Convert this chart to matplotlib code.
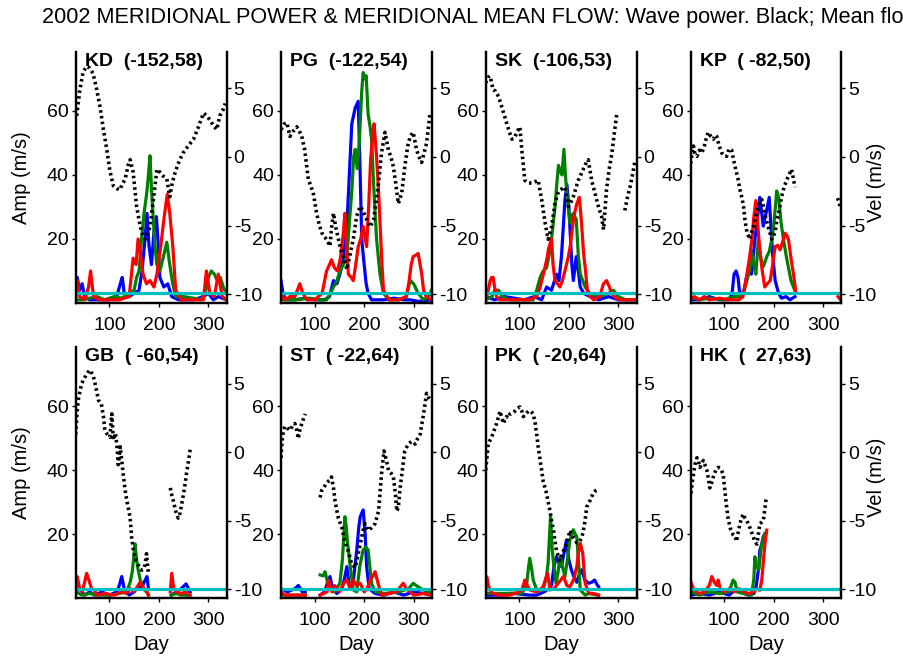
import numpy as np
import matplotlib.pyplot as plt

plt.rcParams['font.family'] = ['Liberation Sans', 'DejaVu Sans']
plt.rcParams['axes.unicode_minus'] = False

# (day, value) pairs; None marks a gap in the record
kd_vel = [(34, 3.0), (40, 4.8), (47, 6.2), (54, 6.6), (60, 6.5), (67, 6.1), (74, 5.0), (81, 3.7), (88, 2.0),
          (95, 0.5), (101, -1.0), (108, -2.1), (115, -2.3), (121, -2.4), (126, -2.0), (132, -1.6), (138, -0.6),
          (142, -0.2), (148, -1.1), (155, -3.6), (160, -4.6), (165, -5.5), (172, -6.0), (177, -5.6), (182, -5.1),
          (189, -3.1), (196, -0.9), (202, -1.1), (209, -1.4), (216, -1.6), (222, -2.9), (227, -1.9), (233, -1.1),
          (241, -0.3), (249, 0.3), (259, 0.8), (270, 1.3), (280, 2.2), (290, 3.2), (297, 3.0), (303, 2.7),
          (310, 2.3), (317, 2.0), (323, 3.0), (329, 3.4), (334, 3.9)]
kd_blue = [(32, 3), (35, 8), (40, 4), (45, 6), (50, 2), (60, 1), (80, 1), (100, 1), (115, 2), (122, 6), (126, 8),
           (130, 3), (140, 2), (150, 3), (160, 4), (166, 10), (172, 20), (176, 28), (180, 18), (185, 12), (190, 22),
           (195, 27), (198, 20), (202, 8), (210, 5), (218, 6), (226, 2), (240, 1), (270, 1), (290, 2), (300, 3),
           (310, 1), (320, 2), (336, 1)]
kd_green = [(32, 1), (45, 1), (60, 1.5), (75, 2), (90, 1), (110, 2), (125, 1.5), (140, 3), (150, 4), (155, 8),
            (160, 10), (165, 20), (170, 28), (176, 35), (180, 42), (182, 46), (185, 36), (188, 28), (192, 18),
            (196, 12), (202, 10), (210, 15), (216, 19), (222, 12), (228, 6), (234, 2), (250, 2), (270, 1.5),
            (285, 1), (295, 4), (300, 8), (306, 10), (312, 9), (318, 7), (324, 8), (330, 5), (336, 3)]
kd_red = [(32, 1), (35, 7), (40, 2), (50, 1), (58, 5), (62, 10), (68, 2), (80, 1), (100, 1), (120, 1), (140, 2),
          (148, 14), (154, 12), (158, 20), (163, 15), (168, 9), (175, 6), (182, 7), (190, 5), (196, 9), (204, 18),
          (210, 26), (217, 34), (222, 28), (228, 18), (234, 4), (245, 1), (270, 1), (290, 1), (296, 10), (303, 3),
          (312, 2), (320, 9), (328, 2), (336, 1)]

pg_vel = [(32, 2.0), (38, 2.4), (44, 2.5), (50, 1.5), (57, 1.9), (64, 2.2), (70, 1.8), (74, 1.5), (80, 0.5),
          (87, -1.6), (92, -2.1), (97, -2.6), (104, -4.1), (109, -4.9), (114, -5.5), (119, -5.8), (124, -6.0),
          (131, -6.5), (134, -5.2), (138, -4.1), (143, -5.2), (148, -6.0), (153, -6.8), (158, -7.2), (165, -8.2),
          (171, -7.2), (178, -6.0), (185, -4.3), (192, -3.6), (197, -3.9), (202, -4.3), (207, -4.7), (212, -5.1),
          (219, -4.6), (224, -3.3), (229, -1.9), (235, 0.3), (242, 1.8), (249, 0.5), (254, 0.0), (259, -0.7),
          (264, -2.0), (269, -3.4), (276, -2.6), (282, -0.7), (288, 0.8), (293, 1.5), (299, 1.8), (306, 0.5),
          (311, 0.0), (316, -0.4), (321, 0.3), (326, 1.0), (333, 3.2)]
pg_blue = [(32, 7), (36, 3), (42, 1), (60, 1), (80, 1.5), (100, 1), (120, 1), (130, 2), (138, 7), (145, 6),
           (151, 9), (158, 14), (165, 24), (170, 40), (175, 56), (182, 61), (188, 63), (192, 40), (195, 20),
           (200, 12), (204, 6), (208, 3), (215, 1), (240, 1), (260, 1.5), (280, 1), (293, 1), (310, 0.5), (336, 1)]
pg_green = [(32, 1), (60, 1), (90, 1.5), (110, 1), (124, 1), (132, 3), (138, 5), (145, 7), (151, 10), (158, 12),
            (165, 14.5), (170, 25), (175, 35), (179, 46), (182, 48), (186, 42), (190, 50), (195, 66), (198, 72),
            (202, 70), (204, 71), (208, 59), (212, 55), (215, 51), (220, 34), (225, 20), (232, 9), (239, 3),
            (250, 1), (270, 1), (285, 2), (293, 7), (300, 6), (309, 3), (320, 1), (330, 2), (336, 4)]
pg_red = [(32, 3), (40, 1), (50, 2), (60, 2), (70, 6), (76, 3), (85, 1), (100, 1), (115, 3), (124, 10), (130, 12),
          (134, 13.5), (140, 11), (146, 10), (152, 14), (158, 22), (161, 28), (164, 20), (168, 9), (174, 8),
          (178, 7), (183, 12), (188, 17.6), (193, 20), (198, 24), (202, 20), (205, 17.6), (209, 30), (213, 44.7),
          (217, 52), (220, 56), (225, 45.7), (229, 35), (232, 25), (236, 12), (239, 4), (250, 1), (270, 1),
          (285, 2), (290, 6), (295, 12), (299, 14.5), (305, 15), (309, 15.5), (313, 12), (316, 9.3), (320, 4),
          (325, 2), (336, 1)]

sk_vel = [(32, 5.4), (36, 5.8), (41, 5.9), (47, 4.9), (52, 4.8), (58, 4.4), (64, 3.7), (70, 3.0), (74, 2.5),
          (80, 1.8), (85, 1.3), (90, 1.4), (95, 1.8), (101, 2.2), (105, 0.5), (108, -0.6), (111, -1.7),
          (118, -1.9), (125, -1.9), (132, -1.8), (138, -1.7), (145, -3.1), (152, -4.8), (158, -6.0), (162, -5.5),
          (165, -5.1), (172, -3.4), (177, -2.7), (182, -2.4), (192, -2.2), (199, -3.6), (204, -3.3), (209, -2.9),
          (214, -2.3), (219, -1.7), (224, -1.3), (229, -0.9), (234, -0.5), (239, -0.2), (246, -1.7), (251, -2.4),
          (256, -3.1), (261, -3.8), (266, -4.3), (270, -5.3), (276, -2.4), (281, -1.0), (287, 0.3), (292, 1.8),
          (297, 3.2), None, (313, -3.9), (318, -3.0), (324, -2.1), (329, -1.2), (334, -0.2)]
sk_blue = [(32, 2), (50, 1), (70, 2), (90, 1.5), (110, 1), (130, 2), (145, 1), (155, 5), (165, 4), (175, 9),
           (180, 7), (185, 14.5), (192, 32), (196, 37), (200, 30), (202, 24), (206, 12), (209, 7), (215, 14.5),
           (219, 10), (223, 5), (230, 3), (243, 2), (260, 1), (280, 2), (300, 1), (320, 1), (336, 1)]
sk_green = [(32, 1), (45, 2), (50, 4), (58, 4), (65, 2), (80, 1), (100, 1), (128, 1), (135, 4), (142, 8),
            (148, 10), (155, 11), (160, 15), (165, 20), (172, 30), (176, 38), (179, 43), (183, 41), (186, 40),
            (190, 48), (193, 40), (196, 34), (202, 25), (205, 27), (209, 28), (215, 26), (219, 15), (223, 9),
            (228, 7), (233, 5), (242, 3), (260, 2), (280, 3), (290, 4), (300, 2), (315, 1), (330, 1), (336, 1)]
sk_red = [(32, 1), (36, 3), (41, 7), (44, 8), (47, 8), (50, 5), (54, 2), (60, 1), (80, 1), (100, 1), (120, 1),
          (135, 2), (142, 5), (150, 10), (156, 14), (159, 17), (165, 20), (168, 12), (172, 7), (182, 5), (187, 7),
          (192, 10), (199, 14.5), (203, 18), (206, 22), (210, 27), (216, 31), (221, 33), (224, 28), (226, 24),
          (230, 15), (233, 11), (238, 3), (250, 1), (262, 2), (270, 6), (276, 7), (282, 5), (286, 3), (295, 1.5),
          (303, 1), (322, 1), (336, 1)]

kp_vel = [(31, -0.9), (34, 0.0), (38, 0.8), (41, 0.2), (45, 0.05), (50, 0.5), (55, 0.3), (60, 0.8), (64, 1.4),
          (68, 1.8), (73, 1.5), (78, 1.3), (82, 1.6), (85, 1.5), (90, 0.8), (95, 0.3), (100, 0.1), (105, 0.05),
          (110, 0.6), (115, 0.5), (119, -0.2), (122, -0.7), (128, -1.6), (132, -2.4), (136, -3.0), (139, -3.6),
          (142, -4.6), (146, -5.5), (152, -6.0), (155, -5.5), (159, -5.1), (164, -4.3), (169, -3.6), (172, -3.2),
          (176, -3.1), (180, -3.7), (183, -4.3), (189, -5.1), (193, -5.6), (196, -6.0), (203, -5.5), (206, -4.7),
          (210, -4.1), (216, -2.9), (221, -2.2), (226, -1.7), (231, -1.3), (236, -0.9), (240, -1.6), (243, -2.2),
          None, (329, -3.0), (332, -3.3), (334, -3.6)]
kp_blue = [(31, 1), (50, 1), (70, 2), (90, 1), (110, 1), (116, 3), (120, 9), (124, 10), (128, 8), (132, 2),
           (140, 4), (145, 8), (150, 10), (155, 9), (162, 19.7), (167, 26), (172, 33), (176, 28), (179, 24),
           (183, 27), (186, 29), (191, 33), (194, 25), (198, 15), (203, 7), (210, 3), (216, 1.5), (225, 2),
           (233, 1), (243, 2)]
kp_green = [(31, 2), (50, 1), (70, 1.5), (100, 1), (120, 2), (135, 2), (140, 4), (146, 7), (151, 10), (156, 15.5),
            (160, 12), (164, 9), (169, 19.7), (174, 14), (179, 11.4), (183, 13), (186, 14.5), (191, 16),
            (196, 19.7), (200, 24), (204, 31), (206, 35), (210, 33), (215, 25), (220, 19.7), (225, 15), (230, 11),
            (235, 7), (240, 5), (245, 3)]
kp_red = [(31, 1), (40, 2), (50, 1), (60, 2), (70, 1), (90, 1.5), (110, 1), (130, 1), (138, 2), (142, 5), (146, 9),
          (151, 14), (156, 19.7), (160, 27), (164, 32), (168, 24), (172, 16.6), (177, 10), (182, 5), (187, 6),
          (193, 7), (198, 12), (203, 17.6), (208, 18), (213, 16.6), (218, 19), (223, 21.8), (227, 21), (230, 19.7),
          (235, 14), (240, 9), (245, 3), None, (330, 2), (335, 1)]

gb_vel = [(32, 1.3), (35, 3.0), (37, 3.8), (41, 4.5), (44, 5.0), (48, 5.3), (51, 5.5), (56, 5.8), (61, 6.0),
          (64, 5.8), (68, 5.5), (73, 4.7), (78, 3.8), (84, 3.5), (88, 2.6), (91, 1.6), (96, 1.3), (101, 1.1),
          (105, 2.8), (108, 0.9), (112, 1.4), (115, 0.6), (118, -0.9), (122, 0.4), (125, -0.6), (128, -1.6),
          (132, -2.8), (135, -3.5), (138, -4.0), (142, -4.8), (145, -6.2), (148, -7.0), (152, -7.7), (158, -8.2),
          (165, -8.6), (169, -8.5), (172, -8.2), (175, -7.4), (179, -8.9), None, (223, -2.6), (226, -3.1),
          (229, -3.5), (234, -4.3), (239, -4.8), (243, -4.4), (246, -3.8), (250, -3.0), (253, -2.3), (256, -1.5),
          (260, -0.6), (264, 0.4)]
gb_blue = [(32, 2), (40, 3), (50, 1), (60, 2), (70, 1), (85, 2), (100, 1), (115, 2), (120, 4), (125, 6.8), (130, 3),
           (140, 1), (150, 2), (160, 4), (165, 3), (170, 5), (176, 6.8), (179, 3), None, (225, 1), (235, 2),
           (245, 3), (255, 4.5), (263, 2)]
gb_green = [(32, 2), (45, 1), (60, 1.5), (80, 1), (100, 1), (120, 1.5), (135, 2), (142, 5), (146, 8), (150, 14),
            (152, 17), (155, 12), (158, 9), (162, 6), (168, 3), (175, 2), (179, 1), None, (225, 1), (235, 1.5),
            (245, 1), (263, 1)]
gb_red = [(32, 3), (35, 6.8), (40, 3), (45, 2), (50, 5), (54, 7.8), (58, 6), (64, 3), (70, 2.5), (75, 1), (90, 1.5),
          (110, 1), (125, 2), (135, 1.5), (142, 3), (150, 2), (162, 5), (170, 3), (176, 2), (179, 1), None,
          (223, 2), (226, 7.8), (230, 3), (235, 2), (245, 1.5), (255, 2), (263, 1)]

st_vel = [(32, -0.4), (34, 0.8), (37, 1.6), (40, 1.9), (44, 1.8), (50, 1.6), (55, 1.9), (60, 2.1), (64, 1.6),
          (67, 1.0), (70, 1.6), (74, 2.1), (78, 2.5), (81, 2.8), None, (111, -3.3), (114, -2.8), (118, -2.6),
          (123, -2.3), (128, -2.1), (131, -2.0), (134, -1.8), (138, -2.6), (141, -3.5), (145, -4.3), (148, -4.8),
          (155, -5.5), (161, -6.5), (168, -7.2), (175, -8.2), (182, -8.4), (188, -7.4), (195, -6.2), (199, -5.5),
          (202, -5.2), (208, -5.7), (215, -5.5), (222, -5.2), (229, -4.3), (232, -3.0), (235, -1.6), (240, 0.1),
          (245, -0.6), (249, -1.3), (254, -1.5), (259, -1.8), (263, -3.0), (266, -4.3), (269, -4.0), (272, -2.8),
          (276, -1.6), (282, 0.1), (289, 0.6), (296, 0.8), (303, 0.6), (308, 1.0), (313, 1.3), (320, 2.8),
          (326, 4.3), (330, 4.0), (334, 3.8)]
st_blue = [(32, 3), (45, 2), (60, 3), (67, 4), (75, 2), (81, 2), None, (111, 1), (120, 2), (126, 5), (131, 6.8),
           (136, 3), (145, 1.5), (155, 3), (160, 6), (165, 9.9), (170, 4), (176, 3), (180, 8), (185, 15), (189, 22),
           (192, 25.5), (198, 27.6), (202, 20), (205, 9.9), (210, 3), (222, 1.5), (240, 1), (260, 2), (280, 1),
           (300, 2), (320, 1.5), (336, 1)]
st_green = [(32, 1), (50, 1), (81, 1), None, (111, 7.3), (117, 7), (121, 8.3), (126, 5), (131, 3), (140, 2),
            (151, 4.7), (156, 12), (161, 25.5), (164, 22), (166, 18), (171, 11), (178, 2.6), (185, 2), (191, 9.9),
            (198, 15.1), (203, 16), (208, 15.1), (212, 9), (215, 4.7), (222, 2), (240, 1.5), (270, 2), (290, 3),
            (299, 4.7), (305, 4), (315, 3), (336, 1.5)]
st_red = [(32, 2), (40, 1), (60, 1), (81, 1), None, (111, 1), (125, 2), (128, 5.7), (135, 2), (140, 4), (150, 2),
          (160, 5), (165, 5.7), (172, 3), (178, 5.7), (185, 4), (192, 4.7), (200, 2), (206, 3), (212, 5.7),
          (218, 7), (222, 8.3), (228, 4.7), (235, 1), (250, 1.5), (265, 2), (279, 4.7), (285, 3), (293, 2),
          (300, 1), (320, 1.5), (336, 1)]

pk_vel = [(32, -1.3), (35, -0.2), (37, 0.6), (41, 0.9), (44, 1.1), (49, 1.6), (54, 2.1), (58, 2.6), (61, 3.0),
          (64, 2.6), (68, 2.1), (71, 2.4), (74, 2.6), (78, 2.5), (81, 2.8), (86, 2.9), (91, 3.0), (96, 3.2),
          (101, 3.3), (105, 3.0), (108, 2.6), (113, 2.8), (118, 3.0), (123, 3.0), (128, 2.8), (132, 2.1),
          (135, 1.3), (138, 0.4), (142, -0.6), (145, -1.3), (148, -2.1), (152, -2.6), (155, -3.0), (158, -3.6),
          (162, -4.3), (165, -5.0), (169, -5.7), (172, -6.5), (175, -7.2), (179, -7.6), (182, -7.9), (186, -7.5),
          (189, -7.2), (192, -6.9), (196, -6.7), (199, -6.2), (202, -5.7), (206, -6.0), (209, -6.2), (216, -6.6),
          (222, -6.5), (226, -6.2), (229, -5.8), (233, -4.9), (236, -4.0), (240, -3.7), (243, -3.5), (249, -3.0),
          (254, -2.8), (260, -2.7)]
pk_blue = [(32, 1), (60, 1), (90, 1.5), (120, 1), (135, 1), (150, 2), (160, 3), (165, 4), (170, 10), (175, 13),
           (180, 11), (185, 9.9), (190, 14), (195, 18.2), (200, 12), (205, 8.9), (212, 6), (216, 5), (220, 7),
           (226, 8.9), (232, 5.7), (240, 4.7), (246, 5), (252, 5.7), (256, 4.5), (260, 3.6)]
pk_green = [(32, 1.6), (60, 1.5), (90, 1.6), (105, 1.5), (111, 3), (115, 4.7), (118, 9), (121, 12.5), (125, 9),
            (128, 5.7), (135, 2.6), (148, 2.6), (155, 7), (158, 10.9), (161, 20), (163, 25.5), (166, 16),
            (169, 10.9), (174, 4.7), (178, 8), (182, 13), (187, 10), (192, 6.8), (197, 12), (202, 18.2), (206, 20),
            (209, 21.4), (213, 20), (216, 19.3), (220, 10), (223, 2.6), (233, 1), (240, 1.5), (260, 1)]
pk_red = [(32, 3), (34, 6.8), (38, 3.6), (45, 1.6), (60, 1), (80, 1), (100, 2), (105, 2.5), (111, 5.7), (116, 4),
          (121, 2.6), (135, 2), (148, 3.6), (153, 6), (157, 7.8), (162, 2.6), (170, 3), (180, 5), (189, 6.8),
          (196, 4), (202, 3.6), (210, 6), (216, 9.9), (219, 14), (223, 17.2), (228, 14.1), (231, 8), (233, 4.7),
          (240, 1.6), (250, 1.5), (260, 1)]

hk_vel = [(33, -3.0), (35, -2.3), (38, -1.6), (41, -0.9), (45, -0.4), (48, -0.6), (51, -1.1), (55, -0.8),
          (58, -0.6), (61, -0.9), (65, -1.3), (68, -1.9), (71, -2.6), (75, -2.2), (78, -1.8), (83, -1.3), (88, -1.1),
          (93, -1.2), (98, -1.6), (102, -3.0), (105, -4.0), (108, -4.8), (112, -5.5), (118, -6.0), (122, -6.1),
          (125, -6.5), (129, -5.7), (132, -5.2), (135, -4.8), (139, -4.5), (142, -4.8), (146, -5.0), (152, -5.5),
          (156, -5.9), (159, -6.2), (162, -6.5), (166, -6.7), (169, -6.0), (172, -5.2), (176, -5.1), (179, -5.0),
          (182, -4.2), (185, -3.3)]
hk_blue = [(33, 1), (50, 1.5), (70, 1), (90, 2), (110, 1), (125, 3), (130, 2), (150, 1), (160, 1.5), (165, 4),
           (170, 10), (172, 15), (176, 17), (179, 19.3), (184, 20.3)]
hk_green = [(33, 2), (50, 1), (70, 2), (90, 1.5), (110, 2), (118, 5.7), (122, 5), (126, 2), (140, 1.5), (155, 1),
            (160, 6), (162, 13), (165, 10), (170, 9), (175, 16), (182, 20.3)]
hk_red = [(33, 5), (38, 3), (44, 2), (50, 1.5), (60, 2), (70, 4), (75, 6.8), (80, 5), (85, 4), (88, 5.7), (92, 3),
          (100, 2), (110, 3), (120, 2), (130, 3), (140, 2), (150, 1.5), (160, 2), (166, 3), (172, 2.5), (176, 5.7),
          (180, 13), (183, 18), (186, 21.3)]

stations = [('KD', -152, 58, kd_vel, kd_blue, kd_green, kd_red),
            ('PG', -122, 54, pg_vel, pg_blue, pg_green, pg_red),
            ('SK', -106, 53, sk_vel, sk_blue, sk_green, sk_red),
            ('KP', -82, 50, kp_vel, kp_blue, kp_green, kp_red),
            ('GB', -60, 54, gb_vel, gb_blue, gb_green, gb_red),
            ('ST', -22, 64, st_vel, st_blue, st_green, st_red),
            ('PK', -20, 64, pk_vel, pk_blue, pk_green, pk_red),
            ('HK', 27, 63, hk_vel, hk_blue, hk_green, hk_red)]

amp_ref = 3.0


def xy(pairs):
    pts = [(np.nan, np.nan) if p is None else p for p in pairs]
    a = np.array(pts, dtype=float)
    return a[:, 0], a[:, 1]


W, H = 904, 658
fig = plt.figure(figsize=(W / 100, H / 100), dpi=100)
fig.text(42 / W, 1 - 18 / H,
         '2002 MERIDIONAL POWER & MERIDIONAL MEAN FLOW: Wave power. Black; Mean flow',
         ha='left', va='center', fontsize=15.6)

lefts = [75.7, 281, 485.7, 690.5]
bottoms = [303, 598.3]
pw, ph = 151, 251.3

for k, (name, lon, lat, vel, blue, green, red) in enumerate(stations):
    row, col = divmod(k, 4)
    ax = fig.add_axes([lefts[col] / W, 1 - bottoms[row] / H, pw / W, ph / H])
    ax2 = ax.twinx()
    for data, c in [(blue, 'b'), (green, '#008000'), (red, 'r')]:
        d, v = xy(data)
        ax.plot(d, v, color=c, lw=2.3, solid_joinstyle='round')
    ax.axhline(amp_ref, color='#00BFBF', lw=2.3)
    d, v = xy(vel)
    ax2.plot(d, v, color='k', lw=2.6, linestyle=(0, (0.7, 0.9)))

    ax.set_xlim(32, 337)
    ax.set_ylim(0, 78.5)
    ax2.set_ylim(-10.65, 7.68)
    ax.set_xticks([100, 200, 300])
    ax.set_yticks([20, 40, 60])
    ax2.set_yticks([5, 0, -5, -10])
    for a in (ax, ax2):
        a.spines['top'].set_visible(False)
        for s in a.spines.values():
            s.set_linewidth(1.6)
        a.tick_params(labelsize=14, length=3, width=1, pad=2)
    ax.tick_params(axis='x', pad=7)
    ax.patch.set_visible(False)
    ax2.set_zorder(ax.get_zorder() + 1)
    ax.text(0.06, 0.995, f'{name}  ({lon:4d},{lat:2d})', transform=ax.transAxes,
            ha='left', va='top', fontsize=14, fontweight='bold')
    if row == 1:
        fig.text((lefts[col] + pw / 2) / W, 1 - 645 / H, 'Day', ha='center', va='center', fontsize=14.5)

for row in range(2):
    yc = 1 - (bottoms[row] - ph / 2) / H
    fig.text(22 / W, yc, 'Amp (m/s)', rotation=90, ha='center', va='center', fontsize=14.5)
    fig.text(877 / W, yc - 5 / H, 'Vel (m/s)', rotation=90, ha='center', va='center', fontsize=14.5)

fig.savefig('out.png', dpi=100)
